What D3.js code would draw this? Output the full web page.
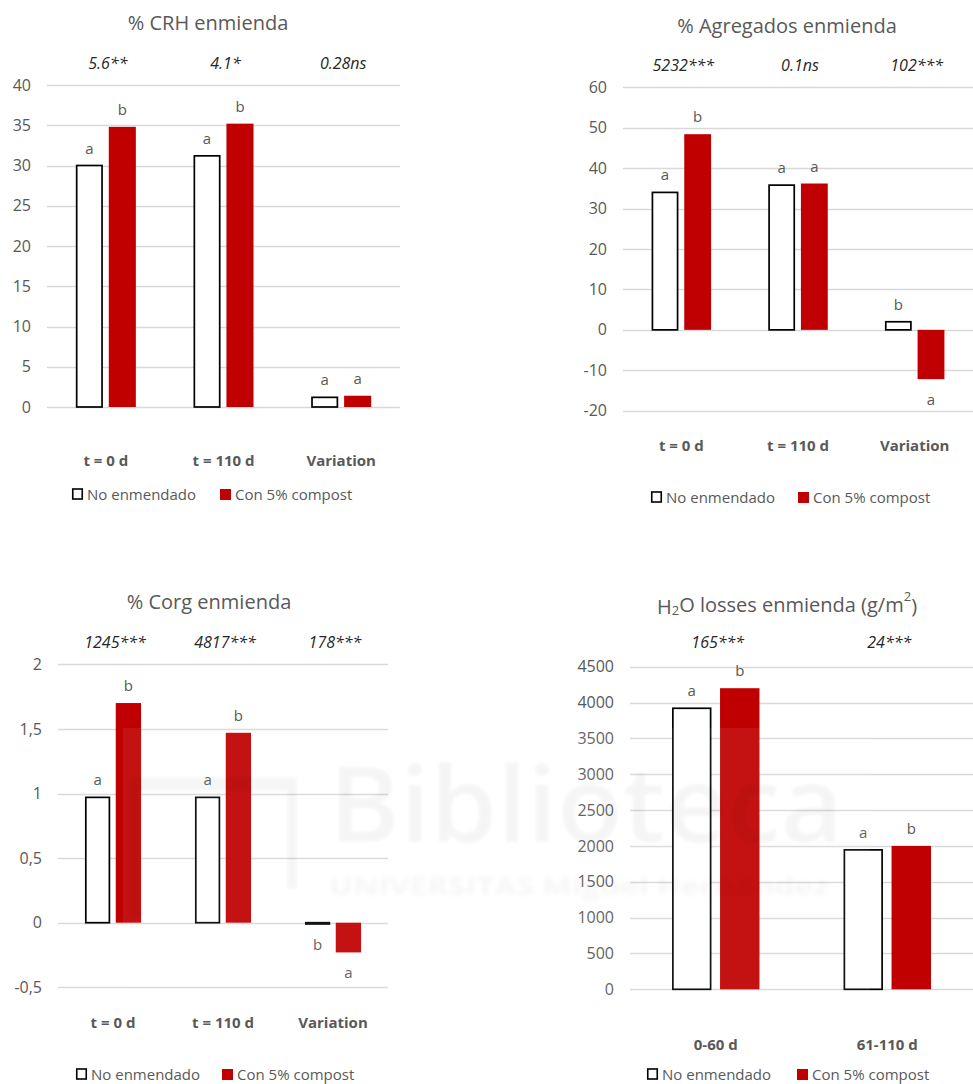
<!DOCTYPE html>
<html>
<head>
<meta charset="utf-8">
<script src="https://cdn.jsdelivr.net/npm/d3@7"></script>
<style>
  body { margin: 0; background: #ffffff; }
  svg { display: block; font-family: "Open Sans", "Noto Sans", sans-serif; }
</style>
</head>
<body>
<svg id="fig" width="973" height="1084"></svg>
<script>
// ---- Series names ----
const seriesNames = ["No enmendado", "Con 5% compost"];

// ---- % CRH ----
const crhCategories = ["t = 0 d", "t = 110 d", "Variation"];
const crhNoEnmendado = [30.0, 31.2, 1.2];
const crhCompost = [34.8, 35.2, 1.4];
const crhLettersNo = ["a", "a", "a"];
const crhLettersCompost = ["b", "b", "a"];
const crhF = ["5.6**", "4.1*", "0.28ns"];
const crhTicks = [0, 5, 10, 15, 20, 25, 30, 35, 40];

// ---- % Agregados ----
const aggCategories = ["t = 0 d", "t = 110 d", "Variation"];
const aggNoEnmendado = [34.0, 35.8, 2.0];
const aggCompost = [48.4, 36.2, -12.2];
const aggLettersNo = ["a", "a", "b"];
const aggLettersCompost = ["b", "a", "a"];
const aggF = ["5232***", "0.1ns", "102***"];
const aggTicks = [-20, -10, 0, 10, 20, 30, 40, 50, 60];

// ---- % Corg ----
const corgCategories = ["t = 0 d", "t = 110 d", "Variation"];
const corgNoEnmendado = [0.97, 0.97, -0.01];
const corgCompost = [1.70, 1.47, -0.23];
const corgLettersNo = ["a", "a", "b"];
const corgLettersCompost = ["b", "b", "a"];
const corgF = ["1245***", "4817***", "178***"];
const corgTicks = [-0.5, 0, 0.5, 1, 1.5, 2];

// ---- H2O losses ----
const h2oCategories = ["0-60 d", "61-110 d"];
const h2oNoEnmendado = [3920, 1945];
const h2oCompost = [4200, 2000];
const h2oLettersNo = ["a", "a"];
const h2oLettersCompost = ["b", "b"];
const h2oF = ["165***", "24***"];
const h2oTicks = [0, 500, 1000, 1500, 2000, 2500, 3000, 3500, 4000, 4500];

// ---- Styling ----
const RED = "#C00000";
const GRID = "#D9D9D9";
const TEXT = "#595959";
const FTEXT = "#262626";

const commaFmt = d => String(d).replace(".", ",");

// Panel layouts (pixel frame of each chart)
const panels = [
  { title: [{t: "% CRH enmienda"}], titleX: 208, titleY: 22,
    categories: crhCategories, no: crhNoEnmendado, comp: crhCompost,
    lNo: crhLettersNo, lComp: crhLettersCompost, F: crhF,
    ticks: crhTicks, fmt: d => d, domain: [0, 40],
    x0: 47, x1: 400, yTop: 85, yBottom: 407, fY: 63, catY: 460,
    legendY: 494, legendX: [72, 220] },
  { title: [{t: "% Agregados enmienda"}], titleX: 787, titleY: 25,
    categories: aggCategories, no: aggNoEnmendado, comp: aggCompost,
    lNo: aggLettersNo, lComp: aggLettersCompost, F: aggF,
    ticks: aggTicks, fmt: d => d, domain: [-20, 60],
    x0: 623, x1: 973, yTop: 87.3, yBottom: 410.7, fY: 65, catY: 445,
    legendY: 497, legendX: [651, 798] },
  { title: [{t: "% Corg enmienda"}], titleX: 209, titleY: 601,
    categories: corgCategories, no: corgNoEnmendado, comp: corgCompost,
    lNo: corgLettersNo, lComp: corgLettersCompost, F: corgF,
    ticks: corgTicks, fmt: commaFmt, domain: [-0.5, 2],
    x0: 58, x1: 388, yTop: 664.3, yBottom: 987.3, fY: 642, catY: 1022,
    legendY: 1074, legendX: [76, 222] },
  { title: [{t: "H"}, {t: "2", sub: true}, {t: "O losses enmienda (g/m"}, {t: "2", sup: true}, {t: ")"}],
    titleX: 787, titleY: 606,
    categories: h2oCategories, no: h2oNoEnmendado, comp: h2oCompost,
    lNo: h2oLettersNo, lComp: h2oLettersCompost, F: h2oF,
    ticks: h2oTicks, fmt: d => d, domain: [0, 4500],
    x0: 630, x1: 973, yTop: 666.7, yBottom: 989.3, fY: 642, catY: 1044,
    legendY: 1074, legendX: [647, 797] }
];

const svg = d3.select("#fig");

// soft blur for the watermark lettering
const defs = svg.append("defs");
defs.append("filter").attr("id", "soft").attr("x", "-5%").attr("y", "-20%").attr("width", "110%").attr("height", "140%")
  .append("feGaussianBlur").attr("stdDeviation", 1.6);
defs.append("filter").attr("id", "softer").attr("x", "-5%").attr("y", "-40%").attr("width", "110%").attr("height", "180%")
  .append("feGaussianBlur").attr("stdDeviation", 2.4);

function drawPanel(p) {
  const g = svg.append("g");
  const y = d3.scaleLinear().domain(p.domain).range([p.yBottom, p.yTop]);
  const x = d3.scaleBand().domain(p.categories).range([p.x0, p.x1]);
  const bw = x.bandwidth();
  const barW = bw * 0.23;
  const gap = bw * 0.05;

  // gridlines
  g.append("g").selectAll("line").data(p.ticks).join("line")
    .attr("x1", p.x0).attr("x2", p.x1)
    .attr("y1", d => Math.round(y(d)) + 0.5).attr("y2", d => Math.round(y(d)) + 0.5)
    .attr("stroke", GRID).attr("stroke-width", 1.3);

  // y axis labels
  const ax = g.append("g").attr("transform", `translate(${p.x0},0)`)
    .call(d3.axisLeft(y).tickValues(p.ticks).tickFormat(p.fmt).tickSize(0).tickPadding(16));
  ax.select(".domain").remove();
  ax.selectAll("text").attr("fill", TEXT).style("font-size", "16px")
    .style("font-family", "\"Open Sans\", sans-serif");

  const cx = c => x(c) + bw / 2;

  // unamended (white) bars
  const sw = 1.7;
  g.append("g").selectAll("rect").data(p.categories).join("rect")
    .attr("x", (c) => cx(c) - gap / 2 - barW + sw / 2)
    .attr("width", barW - sw)
    .attr("y", (c, i) => Math.min(y(p.no[i]), y(0)))
    .attr("height", (c, i) => Math.max(Math.abs(y(p.no[i]) - y(0)), 0.3))
    .attr("fill", "#ffffff").attr("stroke", "#000").attr("stroke-width", sw);

  // compost (red) bars
  g.append("g").selectAll("rect").data(p.categories).join("rect")
    .attr("x", (c) => cx(c) + gap / 2)
    .attr("width", barW)
    .attr("y", (c, i) => Math.min(y(p.comp[i]), y(0)))
    .attr("height", (c, i) => Math.abs(y(p.comp[i]) - y(0)))
    .attr("fill", RED);

  // significance letters
  const letterY = v => v >= 0 ? y(v) - 18 : y(v) + 20;
  const lg = g.append("g").attr("fill", TEXT).style("font-size", "15px")
    .attr("text-anchor", "middle").attr("dominant-baseline", "central");
  lg.selectAll("text.no").data(p.categories).join("text").attr("class", "no")
    .attr("x", c => cx(c) - gap / 2 - barW / 2)
    .attr("y", (c, i) => letterY(p.no[i]))
    .text((c, i) => p.lNo[i]);
  lg.selectAll("text.comp").data(p.categories).join("text").attr("class", "comp")
    .attr("x", c => cx(c) + gap / 2 + barW / 2)
    .attr("y", (c, i) => letterY(p.comp[i]))
    .text((c, i) => p.lComp[i]);

  // F statistics
  g.append("g").selectAll("text").data(p.categories).join("text")
    .attr("x", c => cx(c) + 2).attr("y", p.fY)
    .attr("text-anchor", "middle").attr("dominant-baseline", "central")
    .attr("fill", FTEXT).style("font-size", "16px").style("font-style", "italic")
    .text((c, i) => p.F[i]);

  // category labels
  g.append("g").selectAll("text").data(p.categories).join("text")
    .attr("x", c => cx(c)).attr("y", p.catY)
    .attr("text-anchor", "middle").attr("dominant-baseline", "central")
    .attr("fill", TEXT).style("font-size", "15px").style("font-weight", "bold")
    .text(c => c);

  // title
  const t = g.append("text").attr("x", p.titleX).attr("y", p.titleY)
    .attr("text-anchor", "middle").attr("dominant-baseline", "central")
    .attr("fill", TEXT).style("font-size", "20px");
  p.title.forEach(part => {
    const ts = t.append("tspan").text(part.t);
    if (part.sub) ts.attr("dy", "0.3em").style("font-size", "13px");
    else if (part.sup) ts.attr("dy", "-0.6em").style("font-size", "13px");
  });
  // restore baseline after sub/superscripts
  t.selectAll("tspan").each(function(d, i) {
    const prev = p.title[i - 1];
    if (prev && prev.sub && !p.title[i].sup && !p.title[i].sub) d3.select(this).attr("dy", "-0.3em");
    if (prev && prev.sup && !p.title[i].sup && !p.title[i].sub) d3.select(this).attr("dy", "0.45em");
  });

  // legend
  const leg = g.append("g").style("font-size", "15px").attr("fill", TEXT);
  leg.append("rect").attr("x", p.legendX[0] + 0.75).attr("y", p.legendY - 5)
    .attr("width", 9.5).attr("height", 10).attr("fill", "#fff")
    .attr("stroke", "#000").attr("stroke-width", 1.6);
  leg.append("text").attr("x", p.legendX[0] + 15).attr("y", p.legendY)
    .attr("dominant-baseline", "central").text(seriesNames[0]);
  leg.append("rect").attr("x", p.legendX[1]).attr("y", p.legendY - 5)
    .attr("width", 11).attr("height", 11).attr("fill", RED);
  leg.append("text").attr("x", p.legendX[1] + 15).attr("y", p.legendY)
    .attr("dominant-baseline", "central").text(seriesNames[1]);
}

panels.forEach(drawPanel);

// faint library watermark laid over the lower charts
const wm = svg.append("g").attr("pointer-events", "none");
wm.append("rect").attr("x", 123).attr("y", 728).attr("width", 747).attr("height", 272)
  .attr("fill", "#ffffff").attr("opacity", 0.07);
const wmShapes = wm.append("g").attr("fill", "#000").attr("opacity", 0.03).attr("filter", "url(#soft)");
wmShapes.append("rect").attr("x", 130).attr("y", 777).attr("width", 167).attr("height", 14);
wmShapes.append("rect").attr("x", 130).attr("y", 777).attr("width", 10).attr("height", 140);
wmShapes.append("rect").attr("x", 287).attr("y", 777).attr("width", 10).attr("height", 112);
wm.append("text").attr("x", 329).attr("y", 842)
  .attr("textLength", 514).attr("lengthAdjust", "spacingAndGlyphs")
  .style("font-size", "105px").style("font-weight", "600")
  .attr("fill", "#000").attr("opacity", 0.035).attr("filter", "url(#soft)")
  .text("Biblioteca");
wm.append("text").attr("x", 329).attr("y", 895)
  .attr("textLength", 500).attr("lengthAdjust", "spacingAndGlyphs")
  .style("font-size", "25px").style("font-weight", "bold")
  .attr("fill", "#000").attr("opacity", 0.035).attr("filter", "url(#softer)")
  .text("UNIVERSITAS Miguel Hernández");
</script>
</body>
</html>
